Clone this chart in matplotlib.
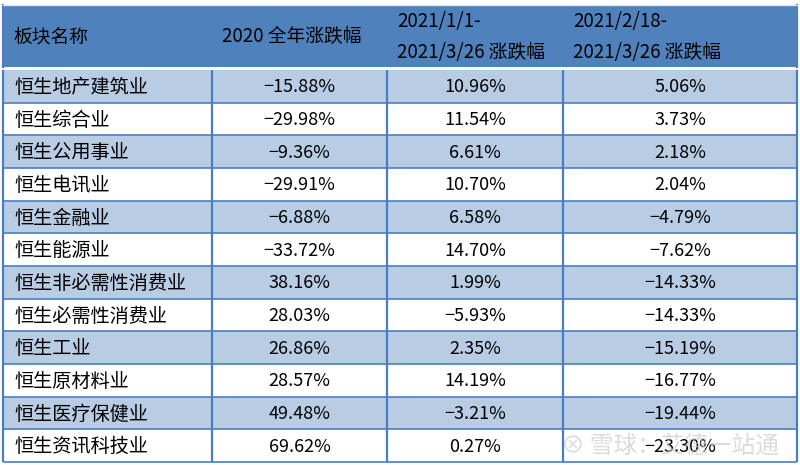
import matplotlib
matplotlib.use("Agg")
import matplotlib.pyplot as plt
from matplotlib.patches import Rectangle

plt.rcParams['font.family'] = ['Noto Sans CJK SC', 'DejaVu Sans']

headers = ["板块名称", "2020 全年涨跌幅", "2021/1/1-\n2021/3/26 涨跌幅", "2021/2/18-\n2021/3/26 涨跌幅"]
sectors = ["恒生地产建筑业", "恒生综合业", "恒生公用事业", "恒生电讯业", "恒生金融业", "恒生能源业",
           "恒生非必需性消费业", "恒生必需性消费业", "恒生工业", "恒生原材料业", "恒生医疗保健业", "恒生资讯科技业"]
chg_2020 = [-15.88, -29.98, -9.36, -29.91, -6.88, -33.72, 38.16, 28.03, 26.86, 28.57, 49.48, 69.62]
chg_ytd = [10.96, 11.54, 6.61, 10.70, 6.58, 14.70, 1.99, -5.93, 2.35, 14.19, -3.21, 0.27]
chg_feb = [5.06, 3.73, 2.18, 2.04, -4.79, -7.62, -14.33, -14.33, -15.19, -16.77, -19.44, -23.30]

def fmt(v):
    s = f"{abs(v):.2f}%"
    return ("−" + s) if v < 0 else s

W, H = 800, 465
fig = plt.figure(figsize=(W / 100, H / 100), dpi=100)
ax = fig.add_axes([0, 0, 1, 1])
ax.set_xlim(0, W)
ax.set_ylim(H, 0)
ax.axis('off')

col_edges = [3, 212, 387, 563, 797]
head_top, head_bot = 5, 67
row_top = 70
row_h = (462 - row_top) / len(sectors)

header_bg = "#4F81BD"
light = "#B8CCE4"
line_c = "#4A7EC0"

# header
ax.add_patch(Rectangle((col_edges[0], head_top), col_edges[-1] - col_edges[0], head_bot - head_top,
                       facecolor=header_bg, edgecolor='none'))
for j, h in enumerate(headers):
    ax.text(col_edges[j] + 10, (head_top + head_bot) / 2 + 1, h, ha='left', va='center',
            fontsize=13.5, color='black', linespacing=1.6)

# rows
for i, name in enumerate(sectors):
    y0 = row_top + i * row_h
    fc = light if i % 2 == 0 else "white"
    ax.add_patch(Rectangle((col_edges[0], y0), col_edges[-1] - col_edges[0], row_h,
                           facecolor=fc, edgecolor='none'))
    yc = y0 + row_h / 2 + 1
    ax.text(col_edges[0] + 11, yc, name, ha='left', va='center', fontsize=13.8, color='black')
    for j, vals in enumerate([chg_2020, chg_ytd, chg_feb]):
        xc = (col_edges[j + 1] + col_edges[j + 2]) / 2
        ax.text(xc, yc, fmt(vals[i]), ha='center', va='center', fontsize=13, color='black')
    # horizontal line below row
    ax.plot([col_edges[0], col_edges[-1]], [y0 + row_h, y0 + row_h], color=line_c, lw=1.2,
            solid_capstyle='butt')

# vertical lines in body
bottom = row_top + len(sectors) * row_h
for x in col_edges:
    ax.plot([x, x], [row_top, bottom], color=line_c, lw=1.6, solid_capstyle='butt')
ax.plot([col_edges[0], col_edges[0]], [head_top, head_bot], color=line_c, lw=1.6)
ax.plot([col_edges[-1], col_edges[-1]], [head_top, head_bot], color=line_c, lw=1.6)
ax.plot([col_edges[0], col_edges[-1]], [head_top, head_top], color="#DDE6F0", lw=1.0)

# watermark
ax.text(670, 446, "⊗ 雪球：艾德一站通", ha='center', va='center', fontsize=17,
        color='#CCCCCC', alpha=0.7, zorder=5)

fig.savefig("out.png", dpi=100)
